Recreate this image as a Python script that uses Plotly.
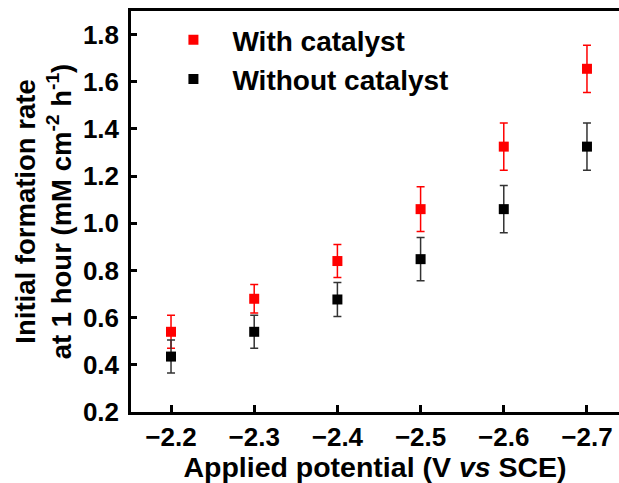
import plotly.graph_objects as go

potential = [-2.2, -2.3, -2.4, -2.5, -2.6, -2.7]
with_cat = [0.54, 0.68, 0.84, 1.06, 1.325, 1.655]
with_cat_err = [0.07, 0.06, 0.07, 0.095, 0.10, 0.10]
without_cat = [0.435, 0.54, 0.677, 0.848, 1.06, 1.325]
without_cat_err = [0.07, 0.07, 0.072, 0.092, 0.10, 0.10]
y_ticks = [0.2, 0.4, 0.6, 0.8, 1.0, 1.2, 1.4, 1.6, 1.8]

FONT = "Liberation Sans"

fig = go.Figure()
fig.add_trace(go.Scatter(
    x=potential, y=with_cat, mode="markers", name="With catalyst",
    marker=dict(symbol="square", size=10, color="#ff0000"),
    error_y=dict(type="data", array=with_cat_err, color="#ff0000", thickness=1.5, width=4),
))
fig.add_trace(go.Scatter(
    x=potential, y=without_cat, mode="markers", name="Without catalyst",
    marker=dict(symbol="square", size=10, color="#000000"),
    error_y=dict(type="data", array=without_cat_err, color="#333333", thickness=1.5, width=4),
))

fig.update_layout(
    width=619, height=483,
    margin=dict(l=131, r=0, t=11, b=71),
    paper_bgcolor="white", plot_bgcolor="white",
    font=dict(family=FONT, color="black"),
    showlegend=True,
    legend=dict(
        x=0.048, y=0.99, xanchor="left", yanchor="top",
        bgcolor="rgba(0,0,0,0)",
        font=dict(family=FONT, size=28, color="black", weight="bold"),
        itemwidth=68,
    ),
    xaxis=dict(
        range=[-2.1519, -2.7385],
        tickvals=potential, tickformat=".1f",
        ticks="inside", ticklen=7, tickwidth=2.5, tickcolor="black",
        showline=True, linewidth=2.5, linecolor="black", mirror=True,
        showgrid=False, zeroline=False,
        tickfont=dict(family=FONT, size=26, color="black", weight="bold"),
        title=dict(text="Applied potential (V <i>vs</i> SCE)", standoff=8,
                   font=dict(family=FONT, size=28.5, color="black", weight="bold")),
    ),
    yaxis=dict(
        range=[0.2, 1.9],
        tickvals=y_ticks, tickformat=".1f",
        ticks="inside", ticklen=6, tickwidth=2.5, tickcolor="black",
        ticklabelstandoff=4,
        showline=True, linewidth=2.5, linecolor="black", mirror=False,
        showgrid=False, zeroline=False,
        tickfont=dict(family=FONT, size=26, color="black", weight="bold"),
        title=dict(text="Initial formation rate<br>at 1 hour (mM cm<sup>-2</sup> h<sup>-1</sup>)",
                   standoff=4,
                   font=dict(family=FONT, size=27.5, color="black", weight="bold")),
    ),
)

fig.write_html("out.html", config={"displayModeBar": False},
               post_script="document.body.style.margin='0';document.body.style.padding='0';")
